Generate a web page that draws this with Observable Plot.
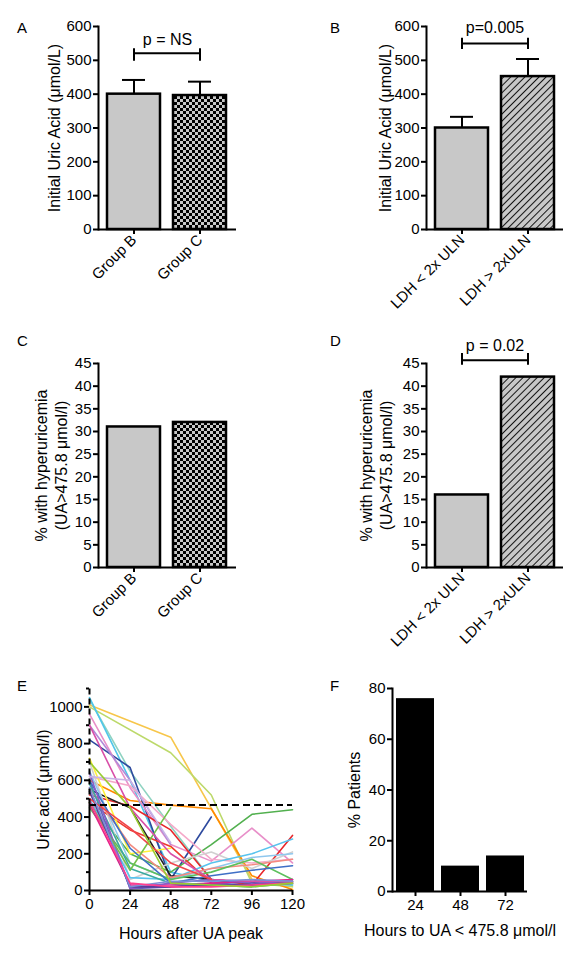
<!DOCTYPE html>
<html><head><meta charset="utf-8">
<script src="https://cdn.jsdelivr.net/npm/d3@7"></script>
<script src="https://cdn.jsdelivr.net/npm/@observablehq/plot@0.6"></script>
<style>
body{margin:0;background:#fff;}
#wrap{position:relative;width:579px;height:960px;background:#fff;font-family:"Liberation Sans",Arial,sans-serif;overflow:hidden;}
.panel{position:absolute;}
.letter{position:absolute;font-size:15px;line-height:15px;color:#000;}
</style></head><body>
<div id="wrap">
<svg width="0" height="0" style="position:absolute">
  <defs>
    <pattern id="checker" width="6" height="6" patternUnits="userSpaceOnUse">
      <rect width="6" height="6" fill="#c8c8c8"/>
      <rect x="0" y="0" width="3" height="3" fill="#000"/>
      <rect x="3" y="3" width="3" height="3" fill="#000"/>
    </pattern>
    <pattern id="hatch" width="5" height="5" patternUnits="userSpaceOnUse" patternTransform="rotate(45)">
      <rect width="5" height="5" fill="#c8c8c8"/>
      <line x1="0" y1="0" x2="0" y2="5" stroke="#000" stroke-width="1.8"/>
    </pattern>
  </defs>
</svg>
</div>
<script>
// ---------- DATA ----------
const groupsAC = ["Group B", "Group C"];
const groupsBD = ["LDH < 2x ULN", "LDH > 2xULN"];
const uaMeanA = [400, 396];
const uaUpperA = [442, 437];
const uaMeanB = [300, 452];
const uaUpperB = [333, 504];
const hyperC = [31, 32];
const hyperD = [16, 42];
const fHours = ["24", "48", "72"];
const fPct = [76, 10, 14];
const eHours = [0, 24, 48, 72, 96, 120];
const eThreshold = 465;
const ePatients = [
  [1010, null, 835, null, 60, 30],
  [1000, null, 750, 520, 40, 20],
  [600, 490, 465, 445, 80, 5],
  [1040, 650, 350, 60, 40, 30],
  [1050, 600, 100, 50, 40, 30],
  [820, 670, 60, 400, null, null],
  [960, 560, 250, 160, 340, 150],
  [900, 600, 250, null, null, null],
  [480, 200, 100, 250, 415, 440],
  [520, 460, 330, 60, 30, 300],
  [480, 330, 240, 40, null, null],
  [550, 450, 80, 60, 40, 50],
  [600, 10, 20, 40, 30, 60],
  [620, 570, 360, 170, 150, 170],
  [720, 200, 230, null, null, null],
  [700, 60, 150, 210, 120, 210],
  [500, 70, 60, 150, 200, 280],
  [650, 150, 60, 120, 180, 200],
  [560, 250, 70, 120, 140, 170],
  [450, 150, 60, 100, 170, 60],
  [600, 230, 40, 80, 110, 135],
  [470, 30, 30, 40, 50, 60],
  [580, 120, 40, 30, 20, 40],
  [640, 10, 40, 60, 40, 50],
  [480, 110, 450, null, null, null],
  [900, 450, 200, 60, 50, 50],
  [540, 20, 20, 30, 30, 40],
  [620, 600, 260, null, null, null],
  [500, 340, 150, 60, null, null],
  [560, 20, 50, 50, 60, 50],
  [490, 40, 20, 20, 30, 40],
  [700, 450, 40, 30, 20, 40]
];
const eColors = ["#f7c64a","#bcd96a","#ff8a00","#8fd3c1","#4fc6ea","#2e4a9e","#e88fc9","#b08ad8",
  "#52b04f","#e8262a","#ee3b2f","#222222","#6b5fc0","#f5a9c9","#fff13a","#d0d0d0","#57c3ee","#8fc7ee",
  "#f38a7f","#5cbf5c","#3f6fc6","#e3218b","#3aa99f","#8a5cc8","#72c24a","#d94fa8","#5a3d99","#c9b3e6",
  "#f0444b","#7b8fd6","#ff3e8e","#9acd32"];
const ticksUA = [0, 100, 200, 300, 400, 500, 600];
const ticksHyper = [0, 5, 10, 15, 20, 25, 30, 35, 40, 45];
const ticksE = [0, 200, 400, 600, 800, 1000];
const minorTicksE = [100, 300, 500, 700, 900, 1100];
const ticksEx = [0, 24, 48, 72, 96, 120];
const ticksF = [0, 20, 40, 60, 80];

// ---------- STYLE ----------
const TICK = 15, LAB = 16;
const baseStyle = "font-size:15px;font-family:'Liberation Sans',Arial,sans-serif;background:transparent;overflow:visible;color:#000;";
const GRAY = "#c8c8c8";
const wrap = document.getElementById("wrap");
const fmt = d => String(d);

function place(svg, left, top) {
  svg.classList.add("panel");
  svg.style.left = left + "px";
  svg.style.top = top + "px";
  wrap.appendChild(svg);
}
function letter(t, left, top) {
  const d = document.createElement("div");
  d.className = "letter"; d.textContent = t;
  d.style.left = left + "px"; d.style.top = top + "px";
  wrap.appendChild(d);
}
function yLabel(t, dx) {
  return Plot.text([t], {text: d => d, frameAnchor: "left", textAnchor: "middle", rotate: -90, dx, lineAnchor: "middle", lineHeight: 1.25, fontSize: LAB});
}
function xLabel(t, dy) {
  return Plot.text([t], {text: d => d, frameAnchor: "bottom", textAnchor: "middle", dy, lineAnchor: "middle", fontSize: LAB});
}

function barPanel(o) {
  const data = o.cats.map((c, i) => ({cat: c, v: o.values[i], e: o.uppers ? o.uppers[i] : null, f: o.fills[i]}));
  const marks = [
    Plot.barY(data, {x: "cat", y: "v", fill: "f", stroke: "#000", strokeWidth: 2.5})
  ];
  if (o.uppers) {
    marks.push(Plot.ruleX(data, {x: "cat", y1: "v", y2: "e", strokeWidth: 2}));
    marks.push(Plot.tickY(data, {x: "cat", y: "e", strokeWidth: 2, insetLeft: 15, insetRight: 15}));
  }
  if (o.bracket) {
    const b = o.bracket;
    marks.push(Plot.link([b], {x1: () => o.cats[0], x2: () => o.cats[1], y1: () => b.y, y2: () => b.y, strokeWidth: 2}));
    marks.push(Plot.ruleX(o.cats, {x: d => d, y1: () => b.lo, y2: () => b.hi, strokeWidth: 2}));
    marks.push(Plot.text([b.label], {text: d => d, frameAnchor: "top", textAnchor: "middle", y: () => b.ty, lineAnchor: "middle", fontSize: LAB}));
  }
  marks.push(
    Plot.ruleY([0], {strokeWidth: 2}),
    Plot.frame({anchor: "left", strokeWidth: 2}),
    Plot.axisY({ticks: o.ticks, tickFormat: fmt, tickSize: 5, tickPadding: 2, strokeWidth: 2, fontSize: TICK, label: null}),
    Plot.axisX({tickRotate: -45, tickSize: 5, tickPadding: 3, strokeWidth: 2, fontSize: TICK, label: null}),
    yLabel(o.ylabel, o.ldx)
  );
  return Plot.plot({
    width: o.width, height: o.height,
    marginLeft: o.ml, marginRight: o.mr, marginTop: o.mt, marginBottom: o.mb,
    style: baseStyle,
    x: {domain: o.cats, paddingInner: 0.19, paddingOuter: 0.13, label: null},
    y: {domain: o.yDomain, label: null},
    color: {type: "identity"},
    marks
  });
}

// Panel A
place(barPanel({
  cats: groupsAC, values: uaMeanA, uppers: uaUpperA, fills: [GRAY, "url(#checker)"],
  yDomain: [0, 600], ticks: ticksUA, ylabel: "Initial Uric Acid (\u03bcmol/L)", ldx: -45,
  width: 290, height: 320, ml: 98, mr: 54, mt: 26, mb: 91,
  bracket: {y: 521, lo: 497, hi: 534, label: "p = NS", ty: 559}
}), 0, 0);

// Panel B
place(barPanel({
  cats: groupsBD, values: uaMeanB, uppers: uaUpperB, fills: [GRAY, "url(#hatch)"],
  yDomain: [0, 600], ticks: ticksUA, ylabel: "Initial Uric Acid (\u03bcmol/L)", ldx: -42,
  width: 289, height: 320, ml: 136, mr: 16, mt: 26, mb: 91,
  bracket: {y: 550, lo: 532, hi: 565, label: "p=0.005", ty: 597}
}), 290, 0);

// Panel C
place(barPanel({
  cats: groupsAC, values: hyperC, uppers: null, fills: [GRAY, "url(#checker)"],
  yDomain: [0, 45], ticks: ticksHyper, ylabel: "% with hyperuricemia\n(UA>475.8 \u03bcmol/l)", ldx: -48,
  width: 290, height: 320, ml: 98, mr: 54, mt: 43, mb: 73
}), 0, 320);

// Panel D
place(barPanel({
  cats: groupsBD, values: hyperD, uppers: null, fills: [GRAY, "url(#hatch)"],
  yDomain: [0, 45], ticks: ticksHyper, ylabel: "% with hyperuricemia\n(UA>475.8 \u03bcmol/l)", ldx: -51,
  width: 289, height: 320, ml: 136, mr: 16, mt: 43, mb: 73,
  bracket: {y: 45.7, lo: 44.6, hi: 47.2, label: "p = 0.02", ty: 48.8}
}), 290, 320);

// Panel E
const eData = [];
ePatients.forEach((vals, id) => vals.forEach((v, j) => {
  if (v != null) eData.push({id, h: eHours[j], v, c: eColors[id % eColors.length]});
}));
place(Plot.plot({
  width: 300, height: 320, marginLeft: 89, marginRight: 8, marginTop: 48, marginBottom: 70,
  style: baseStyle,
  x: {domain: [0, 120], label: null},
  y: {domain: [0, 1100], label: null},
  color: {type: "identity"},
  marks: [
    Plot.line(eData, {x: "h", y: "v", z: "id", stroke: "c", strokeWidth: 1.6}),
    Plot.ruleY([eThreshold], {stroke: "#000", strokeWidth: 2, strokeDasharray: "7,4"}),
    Plot.ruleX([0], {y1: 0, y2: eThreshold, strokeWidth: 2}),
    Plot.ruleX([0], {y1: eThreshold, y2: 1100, strokeWidth: 2, strokeDasharray: "6,4"}),
    Plot.ruleY([0], {strokeWidth: 2}),
    Plot.axisX({ticks: ticksEx, tickFormat: fmt, tickSize: 5, tickPadding: 3, strokeWidth: 2, fontSize: TICK, label: null}),
    Plot.axisY({ticks: ticksE, tickFormat: fmt, tickSize: 5, tickPadding: 2, strokeWidth: 2, fontSize: TICK, label: null}),
    Plot.axisY({ticks: minorTicksE, tickSize: 3, strokeWidth: 2, tickFormat: () => "", label: null}),
    yLabel("Uric acid (\u03bcmol/l)", -47),
    xLabel("Hours after UA peak", 43)
  ]
}), 0, 640);

// Panel F
const fData = fHours.map((h, i) => ({h, p: fPct[i]}));
place(Plot.plot({
  width: 289, height: 320, marginLeft: 102, marginRight: 52, marginTop: 48, marginBottom: 69,
  style: baseStyle,
  x: {domain: fHours, paddingInner: 0.16, paddingOuter: 0.07, label: null},
  y: {domain: [0, 80], label: null},
  marks: [
    Plot.barY(fData, {x: "h", y: "p", fill: "#000"}),
    Plot.ruleY([0], {strokeWidth: 2}),
    Plot.frame({anchor: "left", strokeWidth: 2}),
    Plot.axisX({tickSize: 5, tickPadding: 3, strokeWidth: 2, fontSize: TICK, label: null}),
    Plot.axisY({ticks: ticksF, tickFormat: fmt, tickSize: 5, tickPadding: 2, strokeWidth: 2, fontSize: TICK, label: null}),
    yLabel("% Patients", -39),
    xLabel("Hours to UA < 475.8 \u03bcmol/l", 39)
  ]
}), 290, 640);

letter("A", 17, 20);
letter("B", 330, 20);
letter("C", 17, 333);
letter("D", 330, 333);
letter("E", 17, 678);
letter("F", 330, 678);
</script>
</body></html>
